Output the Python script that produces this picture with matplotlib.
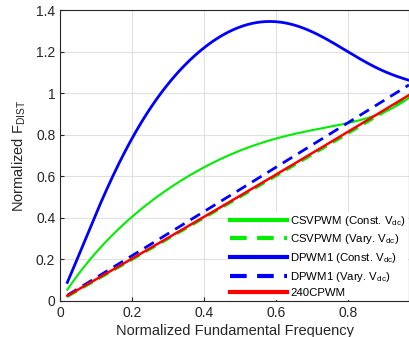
import numpy as np
import matplotlib
matplotlib.use('Agg')
import matplotlib.pyplot as plt

plt.rcParams['font.family'] = ['Liberation Sans', 'DejaVu Sans']

# data
x_dpwm = [0.02, 0.056, 0.093, 0.139, 0.2, 0.232, 0.278, 0.4, 0.463, 0.575, 0.64, 0.704, 0.797, 0.89, 0.97]
y_dpwm = [0.093, 0.23, 0.39, 0.58, 0.79, 0.87, 0.99, 1.215, 1.30, 1.343, 1.33, 1.29, 1.21, 1.11, 1.063]

x_csv = [0.02, 0.093, 0.2, 0.278, 0.306, 0.4, 0.51, 0.6, 0.7, 0.797, 0.871, 0.97]
y_csv = [0.05, 0.23, 0.40, 0.51, 0.54, 0.646, 0.74, 0.78, 0.815, 0.85, 0.90, 0.975]

x_lin = [0.02, 0.2, 0.4, 0.612, 0.797, 0.97]
y_csv_vary = [0.02, 0.20, 0.40, 0.61, 0.805, 0.98]
y_dpwm_vary = [0.026, 0.22, 0.43, 0.654, 0.855, 1.04]
y_240 = [0.024, 0.205, 0.405, 0.617, 0.814, 0.99]

labels = ['CSVPWM (Const. V$_{\\mathregular{dc}}$)',
          'CSVPWM (Vary. V$_{\\mathregular{dc}}$)',
          'DPWM1 (Const. V$_{\\mathregular{dc}}$)',
          'DPWM1 (Vary. V$_{\\mathregular{dc}}$)',
          '240CPWM']


def smooth(xs, ys, deg):
    # least squares polynomial through the read points, only to draw a smooth line
    xx = np.linspace(xs[0], xs[-1], 300)
    p = np.polyfit(xs, ys, deg)
    return xx, np.polyval(p, xx)


fig = plt.figure(figsize=(4.09, 3.37), dpi=100)
ax = fig.add_axes([0.147, 0.107, 0.853, 0.863])

green = '#00ee00'
blue = '#0000ff'
red = '#ff0000'
dash = (0, (4, 2.5))

h1, = ax.plot(*smooth(x_csv, y_csv, 5), color=green, lw=1.5)
h2, = ax.plot(*smooth(x_lin, y_csv_vary, 2), color=green, lw=2, ls=dash)
h3, = ax.plot(*smooth(x_dpwm, y_dpwm, 7), color=blue, lw=2)
h4, = ax.plot(*smooth(x_lin, y_dpwm_vary, 2), color=blue, lw=2, ls=dash)
h5, = ax.plot(*smooth(x_lin, y_240, 2), color=red, lw=1.8)

ax.set_xlim(0, 0.97)
ax.set_ylim(0, 1.4)
ax.set_xticks([0, 0.2, 0.4, 0.6, 0.8])
ax.set_xticklabels(['0', '0.2', '0.4', '0.6', '0.8'])
ax.set_yticks([0, 0.2, 0.4, 0.6, 0.8, 1.0, 1.2, 1.4])
ax.set_yticklabels(['0', '0.2', '0.4', '0.6', '0.8', '1', '1.2', '1.4'])
ax.grid(True, color='#e0e0e0', lw=0.8)
ax.set_axisbelow(True)
ax.tick_params(direction='in', labelsize=10, colors='#262626', length=3)
for s in ax.spines.values():
    s.set_color('#262626')

ax.set_xlabel('Normalized Fundamental Frequency', fontsize=10.5, color='#262626', labelpad=3)
ax.set_ylabel('Normalized F$_{\\mathregular{DIST}}$', fontsize=10.5, color='#262626', labelpad=6)

leg = ax.legend([h1, h2, h3, h4, h5], labels, loc='lower right', frameon=True,
                fontsize=8.2, handlelength=5.0, handletextpad=0.3, labelspacing=0.4,
                borderpad=0.2, borderaxespad=0.05)
leg.get_frame().set_edgecolor('none')
leg.get_frame().set_facecolor('white')
leg.get_frame().set_alpha(1)
for lh in leg.get_lines():
    lh.set_linewidth(3)

fig.savefig('out.png', dpi=100)
